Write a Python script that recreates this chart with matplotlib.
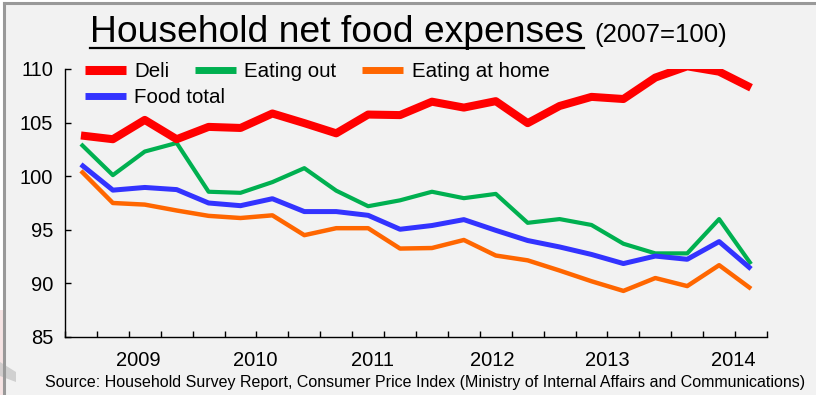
import matplotlib
matplotlib.use("Agg")
import matplotlib.pyplot as plt
from matplotlib.lines import Line2D
from matplotlib.patches import Polygon
import numpy as np

plt.rcParams['font.family'] = ['Liberation Sans', 'DejaVu Sans']

# Quarterly index values (2007 = 100)
deli = [103.8, 103.45, 105.25, 103.45, 104.6, 104.5, 105.85, 104.95, 104.0, 105.75, 105.7,
        106.95, 106.4, 107.0, 104.95, 106.55, 107.4, 107.2, 109.2, 110.25, 109.75, 108.25]
eating_out = [103.0, 100.1, 102.3, 103.1, 98.55, 98.45, 99.45, 100.75, 98.65, 97.2, 97.75,
              98.55, 97.95, 98.35, 95.65, 96.0, 95.45, 93.7, 92.8, 92.8, 96.0, 91.8]
eating_home = [100.5, 97.5, 97.35, 96.8, 96.3, 96.1, 96.35, 94.5, 95.15, 95.15, 93.25,
               93.3, 94.05, 92.6, 92.15, 91.2, 90.2, 89.3, 90.5, 89.75, 91.7, 89.5]
food_total = [101.1, 98.7, 98.95, 98.75, 97.5, 97.25, 97.9, 96.7, 96.7, 96.35, 95.05,
              95.4, 95.95, 94.95, 94.0, 93.4, 92.7, 91.85, 92.55, 92.25, 93.9, 91.35]

year_labels = ['2009', '2010', '2011', '2012', '2013', '2014']
year_label_pos = [1.79, 5.46, 9.15, 12.88, 16.49, 20.44]
y_ticks = [85, 90, 95, 100, 105, 110]

BG = '#F2F2F2'
fig = plt.figure(figsize=(8.16, 3.95), dpi=100, facecolor='white')
W, H = 816, 395

# slide panel with grey border on the left and top
panel = plt.Rectangle((4 / W, 0), 1, 1 - 3 / H, transform=fig.transFigure,
                      facecolor=BG, edgecolor='none', zorder=-10)
fig.patches.append(panel)
fig.patches.append(plt.Rectangle((0, 0), 4 / W, 85 / H, transform=fig.transFigure,
                                 facecolor='#F6E4E4', edgecolor='none', zorder=-9))
fig.patches.append(Polygon([(0, 1 - 362 / H), (16 / W, 1 - 372 / H), (16 / W, 1 - 382 / H),
                            (0, 1 - 376 / H)], closed=True, transform=fig.transFigure,
                           facecolor='#C8C8C8', edgecolor='none', alpha=0.8, zorder=-8))
fig.add_artist(Line2D([4 / W, 4 / W], [0, 1 - 3 / H], transform=fig.transFigure,
                      color='#999999', lw=2.2))
fig.add_artist(Line2D([4 / W, 1], [1 - 3 / H, 1 - 3 / H], transform=fig.transFigure,
                      color='#999999', lw=2.2))

ax = fig.add_axes([65 / W, 1 - 337 / H, (767 - 65) / W, (337 - 69) / H])
ax.set_facecolor(BG)
x = np.arange(len(deli))

l_deli, = ax.plot(x, deli, color='#FF0000', lw=5.8, solid_capstyle='butt', zorder=5)
l_out, = ax.plot(x, eating_out, color='#00B050', lw=3.0, solid_capstyle='butt', zorder=3)
l_home, = ax.plot(x, eating_home, color='#FF6600', lw=3.2, solid_capstyle='butt', zorder=3)
l_tot, = ax.plot(x, food_total, color='#3333FF', lw=3.6, solid_capstyle='butt', zorder=4)

ax.set_xlim(-0.5, len(deli) - 0.5)
ax.set_ylim(85, 110)
for s in ['top', 'right']:
    ax.spines[s].set_visible(False)
for s in ['left', 'bottom']:
    ax.spines[s].set_color('#000000')
    ax.spines[s].set_linewidth(1.0)

ax.set_yticks(y_ticks)
ax.set_yticklabels([str(v) for v in y_ticks])
ax.tick_params(axis='y', direction='in', length=4, width=1, pad=8.5, labelsize=14.5)

ax.set_xticks(np.arange(-0.5, len(deli), 1.0))
ax.set_xticklabels([])
ax.tick_params(axis='x', which='major', direction='in', length=4, width=1)
ax.set_xticks(year_label_pos, minor=True)
ax.set_xticklabels(year_labels, minor=True)
ax.tick_params(axis='x', which='minor', length=0, pad=10, labelsize=14.5)

# legends: first row of three, second row with the total
leg1 = ax.legend([l_deli, l_out, l_home], ['Deli', 'Eating out', 'Eating at home'],
                 ncol=3, loc='upper left', bbox_to_anchor=(85 / W, 1 - 62 / H),
                 bbox_transform=fig.transFigure, frameon=False, fontsize=14.8,
                 borderpad=0, borderaxespad=0, handlelength=2.0, handletextpad=0.4,
                 columnspacing=1.25)
for h in leg1.legend_handles:
    h.set_linewidth(5.0)
leg1.legend_handles[0].set_linewidth(6.5)
ax.add_artist(leg1)
leg2 = ax.legend([l_tot], ['Food total'], loc='upper left',
                 bbox_to_anchor=(85 / W, 1 - 88 / H), bbox_transform=fig.transFigure,
                 frameon=False, fontsize=14.8, borderpad=0, borderaxespad=0,
                 handlelength=2.0, handletextpad=0.4)
leg2.legend_handles[0].set_linewidth(5.0)

# title with underline
t1 = fig.text(90 / W, 1 - 42 / H, 'Household net food expenses', fontsize=26.8,
              ha='left', va='baseline', color='#000000')
fig.canvas.draw()
r = fig.canvas.get_renderer()
bb = t1.get_window_extent(r)
fig.add_artist(Line2D([bb.x0 / W, bb.x1 / W], [1 - 48 / H, 1 - 48 / H],
                      transform=fig.transFigure, color='#000000', lw=1.6))
fig.text(bb.x1 / W + 11 / W, 1 - 42 / H, '(2007=100)', fontsize=18.5,
         ha='left', va='baseline', color='#000000')

fig.text(45 / W, 1 - 383 / H,
         'Source: Household Survey Report, Consumer Price Index (Ministry of Internal Affairs and Communications)',
         fontsize=11.5, ha='left', va='center', color='#000000')

fig.savefig('out.png', dpi=100, facecolor=fig.get_facecolor())
